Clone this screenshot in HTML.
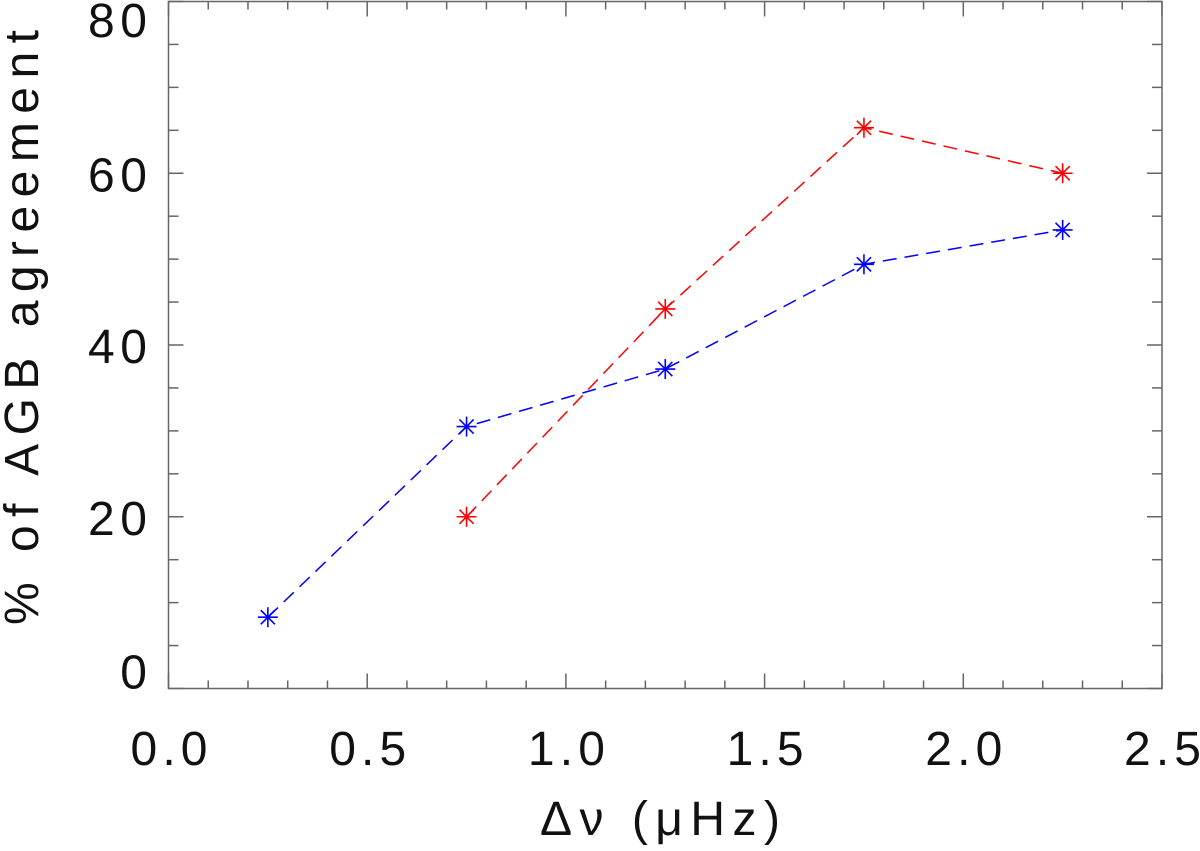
<!DOCTYPE html>
<html><head><meta charset="utf-8"><style>
body{margin:0;background:#fff}
svg text{font-family:"Liberation Sans","DejaVu Sans",sans-serif;fill:#111}
</style></head><body>
<svg id="chart" width="1200" height="846" xmlns="http://www.w3.org/2000/svg">
<g id="axes"></g>
<g id="series"></g>
<text transform="translate(38,625) rotate(-90)" text-anchor="start" font-size="48" textLength="595" lengthAdjust="spacing">% of AGB agreement</text>
<text x="540" y="835" text-anchor="start" font-size="48" textLength="240" lengthAdjust="spacing">Δν  (μHz)</text>
</svg>
<script>
const xCats=[0.25,0.75,1.25,1.75,2.25];
const blueVals=[8.3,30.5,37.2,49.4,53.4];
const redX=[0.75,1.25,1.75,2.25];
const redVals=[20,44.2,65.3,60];
const xTickLabels=["0.0","0.5","1.0","1.5","2.0","2.5"];
const yTickLabels=["0","20","40","60","80"];
const L=168.5,R=1162,T=1.5,B=688.5;
const sx=v=>L+(R-L)*v/2.5, sy=v=>B-(B-T)*v/80;
const NS="http://www.w3.org/2000/svg";
function mk(tag,attrs,parent){const e=document.createElementNS(NS,tag);for(const k in attrs)e.setAttribute(k,attrs[k]);parent.appendChild(e);return e;}
const ax=document.getElementById('axes');
const frame=mk('rect',{x:L,y:T,width:R-L,height:B-T,fill:'none',stroke:'#666','stroke-width':1.5},ax);


for(let i=0;i<=25;i++){const v=i/10,x=sx(v),len=(i%5==0)?15:8;
 const t1=mk('line',{x1:x,x2:x,y1:B,y2:B-len,stroke:'#666','stroke-width':1.5},ax);
 
 
 const t2=mk('line',{x1:x,x2:x,y1:T,y2:T+len,stroke:'#666','stroke-width':1.5},ax);
 
 }
xTickLabels.forEach((s,i)=>{const t=mk('text',{x:sx(i*0.5)-38,y:765,'text-anchor':'start','font-size':48,textLength:77,lengthAdjust:'spacing'},ax);t.textContent=s;
 
 });
for(let i=0;i<=16;i++){const v=i*5,y=sy(v),len=(i%4==0)?15:10;
 const t1=mk('line',{x1:L,x2:L+len,y1:y,y2:y,stroke:'#666','stroke-width':1.5},ax);
 
 
 const t2=mk('line',{x1:R,x2:R-len,y1:y,y2:y,stroke:'#666','stroke-width':1.5},ax);
 
 }
yTickLabels.forEach((s,i)=>{
 let by=sy(i*20)+18;
 if(i===0)by=B;
 if(i===yTickLabels.length-1)by=37;
 const attrs={x:147,y:by,'text-anchor':'end','font-size':48};
 if(s.length===2){attrs.x=88;attrs['text-anchor']='start';attrs.textLength=59;attrs.lengthAdjust='spacing';}
 const t=mk('text',attrs,ax);t.textContent=s;
 
 });
const sg=document.getElementById('series');
function series(xs,ys,color,name){
 const pts=xs.map((x,i)=>sx(x)+','+sy(ys[i])).join(' ');
 const pl=mk('polyline',{points:pts,fill:'none',stroke:color,'stroke-width':1.5,'stroke-dasharray':'14,8'},sg);
 
 
 xs.forEach((x,i)=>{const cx=sx(x),cy=sy(ys[i]),r=10;
  const g=mk('g',{stroke:color,'stroke-width':1.6},sg);
  
  
  mk('line',{x1:cx-r,x2:cx+r,y1:cy,y2:cy},g);
  mk('line',{x1:cx,x2:cx,y1:cy-r,y2:cy+r},g);
  const d=r*0.71;
  mk('line',{x1:cx-d,x2:cx+d,y1:cy-d,y2:cy+d},g);
  mk('line',{x1:cx-d,x2:cx+d,y1:cy+d,y2:cy-d},g);});
}
series(xCats,blueVals,'#0000ff','blue-series');
series(redX,redVals,'#ff0000','red-series');
</script>
</body></html>
